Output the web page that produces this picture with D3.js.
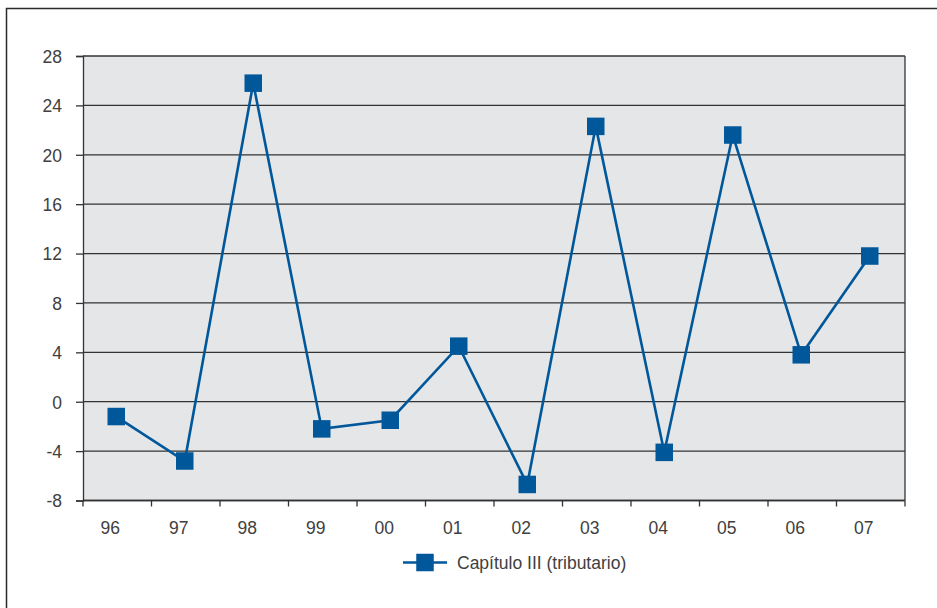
<!DOCTYPE html>
<html>
<head>
<meta charset="utf-8">
<script src="https://cdn.jsdelivr.net/npm/d3@7"></script>
<style>
  html, body { margin: 0; padding: 0; background: #fff; }
  svg { display: block; }
  text { font-family: "Liberation Sans", Arial, sans-serif; fill: #404040; }
</style>
</head>
<body>
<script>
// Years and the Capítulo III (tributario) series
const years = ["96", "97", "98", "99", "00", "01", "02", "03", "04", "05", "06", "07"];
const capituloIII = [-1.2, -4.8, 25.8, -2.2, -1.5, 4.5, -6.7, 22.3, -4.1, 21.6, 3.8, 11.8];
const yTicks = [-8, -4, 0, 4, 8, 12, 16, 20, 24, 28];
const seriesName = "Capítulo III (tributario)";

const W = 937, H = 608;
const plot = { left: 83, right: 905, top: 56, bottom: 500.5 };
const blue = "#00579a";
const fs = 17.5;

const svg = d3.select("body").append("svg").attr("width", W).attr("height", H);

// outer frame (runs off the right and bottom edges)
svg.append("path")
  .attr("d", `M6.5,${H + 2} V8.5 H${W + 2}`)
  .attr("fill", "none").attr("stroke", "#2a2a2a").attr("stroke-width", 1.5);

const x = d3.scaleBand().domain(years).range([plot.left, plot.right]).padding(0);
const y = d3.scaleLinear().domain([-8, 28]).range([plot.bottom, plot.top]);

// plot background
svg.append("rect")
  .attr("x", plot.left).attr("y", plot.top)
  .attr("width", plot.right - plot.left).attr("height", plot.bottom - plot.top)
  .attr("fill", "#e5e6e8");

// horizontal grid
svg.append("g").selectAll("line").data(yTicks).join("line")
  .attr("x1", plot.left).attr("x2", plot.right)
  .attr("y1", d => y(d)).attr("y2", d => y(d))
  .attr("stroke", "#333").attr("stroke-width", 1.3);

// right frame of the plot
svg.append("line")
  .attr("x1", plot.right).attr("x2", plot.right)
  .attr("y1", plot.top).attr("y2", plot.bottom)
  .attr("stroke", "#333").attr("stroke-width", 1.3);

// y axis (plain hyphen for negatives)
const yAxis = d3.axisLeft(y).tickValues(yTicks).tickSize(7).tickPadding(6).tickFormat(d => String(d));
const gy = svg.append("g").attr("transform", `translate(${plot.left},0)`).call(yAxis);
gy.select(".domain").attr("stroke", "#333").attr("stroke-width", 1.3);
gy.selectAll(".tick line").attr("stroke", "#333").attr("stroke-width", 1.3);
gy.selectAll(".tick text").attr("font-size", fs).attr("font-family", null)
  .attr("dy", "0.36em").attr("x", -21)
  .style("fill", "#404040");

// x axis: ticks on category boundaries
const gx = svg.append("g").attr("transform", `translate(0,${plot.bottom})`);
gx.append("line").attr("x1", plot.left).attr("x2", plot.right)
  .attr("stroke", "#333").attr("stroke-width", 1.3);
const bounds = years.map(d => x(d)).concat([plot.right]);
gx.selectAll("line.tk").data(bounds).join("line").attr("class", "tk")
  .attr("x1", d => d).attr("x2", d => d).attr("y1", 0).attr("y2", 6)
  .attr("stroke", "#333").attr("stroke-width", 1.3);
gx.selectAll("text").data(years).join("text")
  .attr("x", d => x(d) + x.bandwidth() / 2 - 7)
  .attr("y", 33.5)
  .attr("text-anchor", "middle")
  .attr("font-size", fs)
  .text(d => d);

// series line and markers
const pts = years.map((d, i) => [x(d) + x.bandwidth() / 2 - 1, y(capituloIII[i])]);
svg.append("path")
  .attr("d", d3.line()(pts))
  .attr("fill", "none").attr("stroke", blue).attr("stroke-width", 2.6)
  .attr("stroke-linejoin", "miter");
const sz = 17.5;
svg.append("g").selectAll("rect").data(pts).join("rect")
  .attr("x", d => d[0] - sz / 2).attr("y", d => d[1] - sz / 2)
  .attr("width", sz).attr("height", sz)
  .attr("fill", blue);

// legend
const lg = svg.append("g").attr("transform", "translate(403,562.5)");
lg.append("line").attr("x1", 0).attr("x2", 44).attr("y1", 0).attr("y2", 0)
  .attr("stroke", blue).attr("stroke-width", 2.6);
lg.append("rect").attr("x", 22 - sz / 2).attr("y", -sz / 2).attr("width", sz).attr("height", sz)
  .attr("fill", blue);
lg.append("text").attr("x", 54).attr("y", 0).attr("dy", "0.36em")
  .attr("font-size", fs).text(seriesName);
</script>
</body>
</html>
